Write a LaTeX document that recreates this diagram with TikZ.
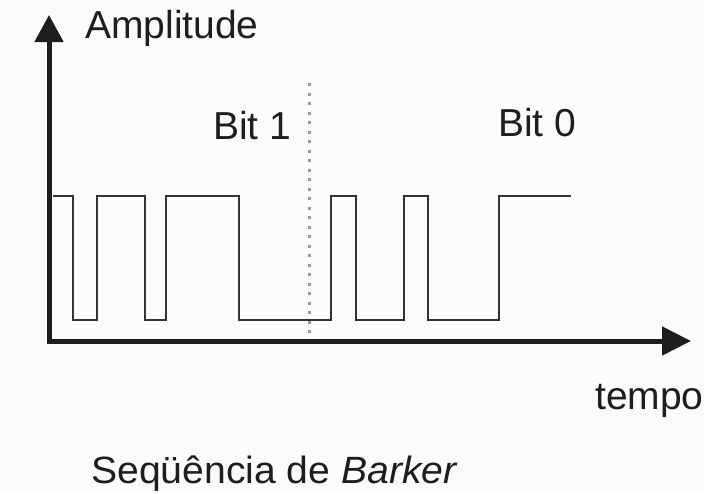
\documentclass[tikz,border=0pt]{standalone}
\usepackage{fontspec}
\setmainfont{Liberation Sans}
\usetikzlibrary{arrows.meta}
\definecolor{ink}{HTML}{1E1E1E}
\definecolor{wave}{HTML}{333333}
\definecolor{paper}{HTML}{FBFBFB}
\begin{document}
\begin{tikzpicture}[x=1pt,y=-1pt,
  axis/.style={draw=ink,line width=5pt,
    {Triangle[length=27pt,width=28pt]}-{Triangle[length=29pt,width=28pt]}},
  signal/.style={draw=wave,line width=2pt,line join=miter},
  divider/.style={draw=gray!80,line width=3pt,dash pattern=on 3pt off 6.5pt},
  label/.style={anchor=base west,inner sep=0pt,text=ink,
    font=\fontsize{39}{42}\selectfont}]
  % canvas
  \fill[paper] (0,0) rectangle (704,493);
  \useasboundingbox (0,0) rectangle (704,493);

  % axes
  \coordinate (ytip) at (49,15);
  \coordinate (origin) at (49,341);
  \coordinate (xtip) at (691,341);
  \path[axis] (ytip) -- (origin) -- (xtip);

  % boundary between the two bits
  \coordinate (divtop) at (309,83);
  \coordinate (divbot) at (309,336);
  \path[divider] (divtop) -- (divbot);

  % Barker chips: bit 1 = + - + + - + + + - - -, bit 0 inverted
  \path[signal] (53,196) -- (73,196) -- (73,320) -- (97,320) -- (97,196)
    -- (145,196) -- (145,320) -- (166,320) -- (166,196) -- (239,196)
    -- (239,320) -- (331,320) -- (331,196) -- (356,196) -- (356,320)
    -- (404,320) -- (404,196) -- (428,196) -- (428,320) -- (499,320)
    -- (499,196) -- (571,196);

  % labels
  \node[label] (amp) at (85,38) {Amplitude};
  \node[label] (bitone) at (213,139) {Bit 1};
  \node[label] (bitzero) at (498,136) {Bit 0};
  \node[label] (time) at (595,409) {tempo};
  \node[label,font=\fontsize{38}{42}\selectfont] (caption) at (91,483)
    {\scalebox{1.03}[1]{Seqüência de \textit{Barker}}};
\end{tikzpicture}
\end{document}
